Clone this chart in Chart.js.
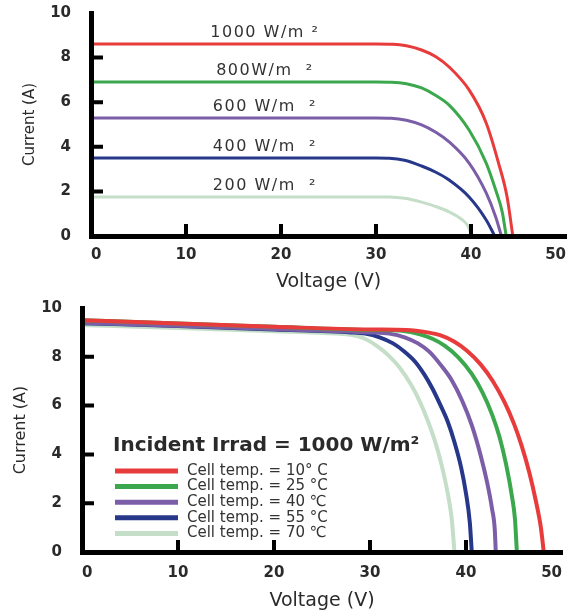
<!DOCTYPE html>
<html>
<head>
<meta charset="utf-8">
<title>I-V curves</title>
<script src="https://cdn.jsdelivr.net/npm/chart.js@4.4.1/dist/chart.umd.min.js"></script>
<style>
    html, body { margin: 0; padding: 0; background: #fff; }
    canvas { display: block; }
</style>
</head>
<body>
<canvas id="irradChart" width="571" height="300"></canvas>
<canvas id="tempChart" width="571" height="312"></canvas>
<script>
// ticks shared by both charts
const xTickValues = [0, 10, 20, 30, 40, 50];
const yTickValues = [0, 2, 4, 6, 8, 10];

// top chart: irradiance
const irradLabels = ['1000 W/m ²', '800W/m  ²', '600 W/m  ²', '400 W/m  ²', '200 W/m  ²'];
const irrVolt1000 = [0, 10, 20, 30, 31.8, 33.2, 34.8, 36.3, 37.7, 39.8, 41.6, 42.9, 43.8, 44.4];
const irrAmp1000  = [8.61, 8.61, 8.61, 8.61, 8.6, 8.53, 8.34, 8.04, 7.58, 6.55, 5.07, 3.27, 1.75, 0];
const irrVolt800  = [0, 10, 20, 30, 31.6, 33.2, 34.8, 36.3, 37.7, 39.8, 41.6, 42.6, 43.3, 43.7];
const irrAmp800   = [6.91, 6.91, 6.91, 6.91, 6.9, 6.83, 6.64, 6.3, 5.87, 4.75, 3.27, 2.06, 1.05, 0];
const irrVolt600  = [0, 10, 20, 30, 31.6, 33.2, 34.8, 36.3, 37.7, 39.8, 41.6, 42.6, 43.2];
const irrAmp600   = [5.29, 5.29, 5.29, 5.29, 5.28, 5.19, 4.98, 4.65, 4.22, 3.27, 1.93, 0.85, 0];
const irrVolt400  = [0, 10, 20, 30, 31.4, 33.0, 34.8, 36.3, 37.7, 39.8, 41.6, 42.5];
const irrAmp400   = [3.5, 3.5, 3.5, 3.5, 3.49, 3.4, 3.14, 2.86, 2.51, 1.75, 0.72, 0];
const irrVolt200  = [0, 10, 20, 30, 31.4, 33.0, 34.8, 36.3, 37.7, 39.0, 39.6, 40.1];
const irrAmp200   = [1.75, 1.75, 1.75, 1.75, 1.745, 1.69, 1.52, 1.32, 1.08, 0.75, 0.5, 0];

// bottom chart: cell temperature
const tempTitle = 'Incident Irrad = 1000 W/m²';
const tempLabels = ['Cell temp. = 10° C', 'Cell temp. = 25 °C', 'Cell temp. = 40 ℃', 'Cell temp. = 55 °C', 'Cell temp. = 70 ℃'];
const tmpVolt10 = [0, 10, 20, 30, 33.8, 36.0, 37.3, 38.8, 40.1, 41.5, 42.8, 44.0, 45.0, 45.8, 46.6, 47.3, 47.8, 48.1];
const tmpAmp10  = [9.5, 9.36, 9.23, 9.12, 9.1, 9.0, 8.89, 8.62, 8.25, 7.7, 7.0, 6.15, 5.25, 4.35, 3.25, 2.05, 1.0, 0];
const tmpVolt25 = [0, 10, 20, 30, 33.5, 35.2, 36.5, 37.8, 39.2, 40.6, 41.7, 42.7, 43.5, 44.2, 44.8, 45.1, 45.3];
const tmpAmp25  = [9.5, 9.36, 9.23, 9.1, 9.06, 8.92, 8.74, 8.45, 7.98, 7.3, 6.55, 5.65, 4.7, 3.55, 2.25, 1.35, 0];
const tmpVolt40 = [0, 10, 20, 30, 32.0, 33.6, 35.0, 36.2, 37.3, 38.5, 39.6, 40.6, 41.5, 42.2, 42.7, 43.0, 43.1];
const tmpAmp40  = [9.4, 9.27, 9.14, 9.0, 8.95, 8.8, 8.55, 8.2, 7.7, 7.05, 6.2, 5.2, 4.0, 2.85, 1.8, 0.9, 0];
const tmpVolt55 = [0, 10, 20, 28.0, 29.5, 31.0, 32.4, 33.6, 34.7, 35.7, 36.5, 37.3, 38.1, 38.8, 39.5, 40.0, 40.4, 40.6];
const tmpAmp55  = [9.38, 9.26, 9.12, 9.0, 8.95, 8.8, 8.55, 8.21, 7.8, 7.25, 6.7, 6.05, 5.34, 4.5, 3.45, 2.4, 1.2, 0];
const tmpVolt70 = [0, 10, 20, 26.5, 28.0, 29.4, 30.7, 31.9, 33.1, 34.3, 35.2, 36.0, 36.8, 37.5, 38.1, 38.5, 38.8];
const tmpAmp70  = [9.3, 9.18, 9.05, 8.95, 8.9, 8.75, 8.45, 8.07, 7.55, 6.84, 6.15, 5.4, 4.5, 3.5, 2.4, 1.4, 0];

const curveColors = ['#e83b3b', '#3ca84e', '#7b5ea7', '#27388a', '#c4dec8'];

function pares(volts, amps) {
    return volts.map((v, i) => ({ x: v, y: amps[i] }));
}

function montarSerie(label, volts, amps, cor, largura) {
    return {
        label: label,
        data: pares(volts, amps),
        borderColor: cor,
        backgroundColor: cor,
        borderWidth: largura,
        pointRadius: 0,
        fill: false,
        cubicInterpolationMode: 'monotone'
    };
}

Chart.defaults.font.family = 'DejaVu Sans';
Chart.defaults.color = '#2a2a2a';

// ticks que apontam para dentro do grafico
const innerTicks = {
    id: 'innerTicks',
    afterDraw(chart, args, opts) {
        const { ctx, chartArea, scales } = chart;
        ctx.save();
        ctx.strokeStyle = '#000';
        ctx.lineWidth = opts.width;
        ctx.beginPath();
        yTickValues.slice(1, -1).forEach(v => {
            const py = scales.y.getPixelForValue(v);
            ctx.moveTo(chartArea.left, py);
            ctx.lineTo(chartArea.left + opts.len, py);
        });
        xTickValues.slice(1, -1).forEach(v => {
            const px = scales.x.getPixelForValue(v);
            ctx.moveTo(px, chartArea.bottom);
            ctx.lineTo(px, chartArea.bottom - opts.len);
        });
        ctx.stroke();
        ctx.restore();
    }
};

// rotulos em cima de cada curva (grafico de cima)
const curveLabels = {
    id: 'curveLabels',
    afterDatasetsDraw(chart) {
        const { ctx, scales } = chart;
        ctx.save();
        ctx.font = '16px "DejaVu Sans"';
        ctx.letterSpacing = '1.5px';
        ctx.fillStyle = '#333';
        ctx.textAlign = 'center';
        ctx.textBaseline = 'middle';
        chart.data.datasets.forEach(ds => {
            const px = scales.x.getPixelForValue(18.3);
            const py = scales.y.getPixelForValue(ds.data[0].y) - 11;
            ctx.fillText(ds.label, px, py);
        });
        ctx.restore();
    }
};

// legenda dentro da area (grafico de baixo)
const innerLegend = {
    id: 'innerLegend',
    afterDatasetsDraw(chart) {
        const { ctx, chartArea } = chart;
        const left = chartArea.left + 31;
        const top = chartArea.top + 138;
        ctx.save();
        ctx.fillStyle = '#2a2a2a';
        ctx.textBaseline = 'middle';
        ctx.font = 'bold 20px "DejaVu Sans"';
        ctx.fillText(tempTitle, left, top);
        ctx.font = '15px "DejaVu Sans"';
        chart.data.datasets.forEach((ds, i) => {
            const y = top + 25 + i * 15.6;
            ctx.strokeStyle = ds.borderColor;
            ctx.lineWidth = 5;
            ctx.beginPath();
            ctx.moveTo(left + 2, y);
            ctx.lineTo(left + 65, y);
            ctx.stroke();
            ctx.fillStyle = '#333';
            ctx.fillText(ds.label, left + 74, y);
        });
        ctx.restore();
    }
};

function eixos(cfg) {
    return {
        x: {
            type: 'linear',
            min: 0,
            max: 50,
            afterBuildTicks: s => { s.ticks = xTickValues.map(v => ({ value: v })); },
            afterFit: s => { s.height = cfg.xHeight; s.paddingLeft = 0; s.paddingRight = 0; },
            grid: { display: false, drawTicks: false },
            border: { display: true, color: '#000', width: 5, z: 1 },
            ticks: { align: 'inner', padding: cfg.xPad, color: '#2a2a2a', font: { size: 15, weight: 'bold' } },
            title: { display: true, text: 'Voltage (V)', color: '#2a2a2a', font: { size: 19 }, padding: { top: 0, bottom: cfg.xTitlePad } }
        },
        y: {
            min: 0,
            max: 10,
            afterBuildTicks: s => { s.ticks = yTickValues.map(v => ({ value: v })); },
            afterFit: s => { s.width = cfg.yWidth; s.paddingTop = 0; s.paddingBottom = 0; },
            grid: { display: false, drawTicks: false },
            border: { display: true, color: '#000', width: 5, z: 1 },
            ticks: { padding: 20, color: '#2a2a2a', font: { size: 15, weight: 'bold' } },
            title: { display: true, text: 'Current (A)', color: '#2a2a2a', font: { size: cfg.yTitleSize }, padding: { top: cfg.yTitlePad, bottom: 0 } }
        }
    };
}

const irradVolts = [irrVolt1000, irrVolt800, irrVolt600, irrVolt400, irrVolt200];
const irradAmps = [irrAmp1000, irrAmp800, irrAmp600, irrAmp400, irrAmp200];

new Chart(document.getElementById('irradChart'), {
    type: 'line',
    data: {
        datasets: irradLabels.map((lab, i) => montarSerie(lab, irradVolts[i], irradAmps[i], curveColors[i], 3))
    },
    options: {
        responsive: false,
        animation: false,
        layout: { padding: { top: 13, right: 5, left: 0, bottom: 0 } },
        plugins: { legend: { display: false }, tooltip: { enabled: false }, innerTicks: { width: 4, len: 12 } },
        scales: eixos({ xHeight: 64, xPad: 10, xTitlePad: 7, yWidth: 91, yTitleSize: 15, yTitlePad: 21 })
    },
    plugins: [innerTicks, curveLabels]
});

const tempVolts = [tmpVolt10, tmpVolt25, tmpVolt40, tmpVolt55, tmpVolt70];
const tempAmps = [tmpAmp10, tmpAmp25, tmpAmp40, tmpAmp55, tmpAmp70];

new Chart(document.getElementById('tempChart'), {
    type: 'line',
    data: {
        datasets: tempLabels.map((lab, i) => montarSerie(lab, tempVolts[i], tempAmps[i], curveColors[i], 4))
    },
    options: {
        responsive: false,
        animation: false,
        layout: { padding: { top: 8, right: 9, left: 0, bottom: 0 } },
        plugins: { legend: { display: false }, tooltip: { enabled: false }, innerTicks: { width: 4, len: 12 } },
        scales: eixos({ xHeight: 60, xPad: 12, xTitlePad: 0, yWidth: 82, yTitleSize: 16, yTitlePad: 11 })
    },
    plugins: [innerTicks, innerLegend]
});
</script>
</body>
</html>
